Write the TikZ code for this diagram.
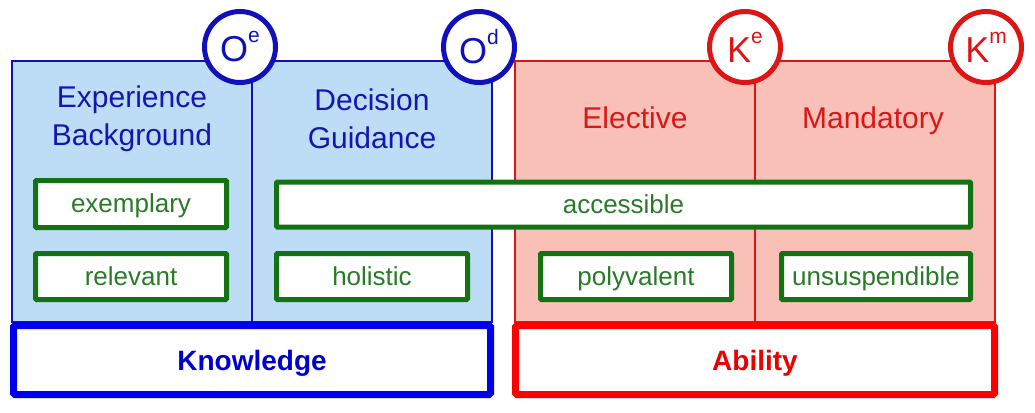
\documentclass[tikz,border=0pt]{standalone}
\usepackage{fontspec}
\setmainfont{Liberation Sans}
\definecolor{bfill}{HTML}{BDDDF6}
\definecolor{bline}{HTML}{1111BB}
\definecolor{btext}{HTML}{1515B0}
\definecolor{bstrong}{HTML}{0000F0}
\definecolor{rfill}{HTML}{F8C0B6}
\definecolor{rline}{HTML}{DD1515}
\definecolor{rtext}{HTML}{D81818}
\definecolor{rstrong}{HTML}{FF0000}
\definecolor{gline}{HTML}{137313}
\definecolor{gtext}{HTML}{2A7A2A}
\tikzset{
  panelB/.style={fill=bfill, draw=bline, line width=2.5pt},
  panelR/.style={fill=rfill, draw=rline, line width=2.5pt},
  title/.style={align=center, font=\fontsize{30}{38}\selectfont},
  onetitle/.style={title, text height=22pt, text depth=0pt},
  gbox/.style={draw=gline, fill=white, line width=5pt, rounded corners=1pt, text=gtext,
    font=\fontsize{26}{30}\selectfont, minimum width=191pt, minimum height=46pt, inner sep=0pt,
    text height=19pt, text depth=2pt},
  circB/.style={circle, draw=bline, fill=white, line width=5pt, minimum size=71pt, inner sep=0pt, text=bline},
  circR/.style={circle, draw=rline, fill=white, line width=5pt, minimum size=71pt, inner sep=0pt, text=rline},
  bigbox/.style={fill=white, line width=7pt, rounded corners=1.5pt, minimum width=477pt, minimum height=69pt,
    inner sep=0pt, font=\fontsize{28}{30}\selectfont\bfseries, text height=20pt, text depth=0pt},
}
\newcommand{\circtxt}[2]{\fontsize{36}{36}\selectfont #1\raisebox{19pt}{\fontsize{21}{21}\selectfont #2}}
\begin{document}
\begin{tikzpicture}[x=1pt,y=-1pt]
\useasboundingbox (0,0) rectangle (1035,412);
% panels
\path[panelB] (12,61) rectangle (492,322);
\draw[bline, line width=2.5pt] (252,61) -- (252,322);
\path[panelR] (515,61) rectangle (995,322);
\draw[rline, line width=2.5pt] (755,61) -- (755,322);
% titles
\node[title, text=btext] (t1) at (132,119) {Experience\\Background};
\node[title, text=btext] (t2) at (372,119) {Decision\\Guidance};
\node[onetitle, text=rtext] (t3) at (635,117) {Elective};
\node[onetitle, text=rtext] (t4) at (873,117) {Mandatory};
% green boxes
\node[gbox, minimum height=47pt] (g1) at (131,204) {exemplary};
\node[gbox] (g2) at (131,276.5) {relevant};
\node[gbox, minimum width=694pt, minimum height=45pt] (g3) at (623.5,204.5) {accessible};
\node[gbox] (g4) at (372,276.5) {holistic};
\node[gbox] (g5) at (636,276.5) {polyvalent};
\node[gbox, minimum width=189pt] (g6) at (876,276.5) {unsuspendible};
% bottom boxes
\node[bigbox, draw=bstrong, text=bstrong!85!black] (k) at (252,360) {Knowledge};
\node[bigbox, draw=rstrong, text=rstrong!92!black, minimum width=479pt] (a) at (755,360) {Ability};
% circles
\node[circB] (oe) at (240,47) {\circtxt{O}{e}};
\node[circB] (od) at (479,47) {\circtxt{O}{d}};
\node[circR] (ke) at (745,47) {\circtxt{K}{e}};
\node[circR] (km) at (986,47) {\circtxt{K}{m}};
\end{tikzpicture}
\end{document}
